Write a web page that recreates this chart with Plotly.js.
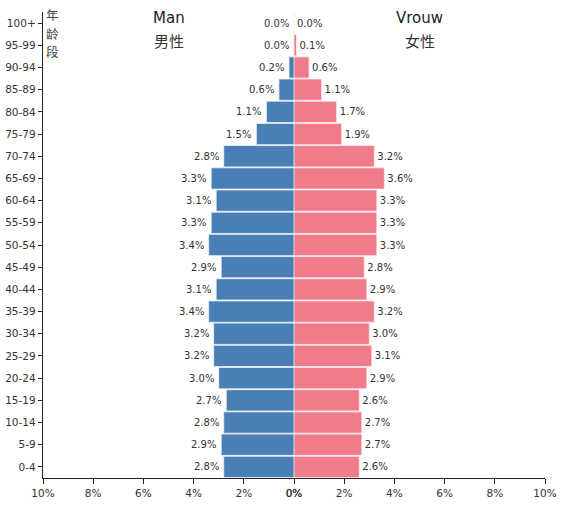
<!DOCTYPE html>
<html>
<head>
<meta charset="utf-8">
<script src="https://cdn.plot.ly/plotly-3.0.1.min.js"></script>
<style>html,body{margin:0;padding:0;background:#fff;}#chart{width:573px;height:507px;}</style>
</head>
<body>
<div id="chart"></div>
<script>
const ageGroups = ["0-4","5-9","10-14","15-19","20-24","25-29","30-34","35-39","40-44","45-49","50-54","55-59","60-64","65-69","70-74","75-79","80-84","85-89","90-94","95-99","100+"];
const maleValues = [2.8,2.9,2.8,2.7,3.0,3.2,3.2,3.4,3.1,2.9,3.4,3.3,3.1,3.3,2.8,1.5,1.1,0.6,0.2,0.0,0.0];
const femaleValues = [2.6,2.7,2.7,2.6,2.9,3.1,3.0,3.2,2.9,2.8,3.3,3.3,3.3,3.6,3.2,1.9,1.7,1.1,0.6,0.1,0.0];
const xTickVals = [0,2,4,6,8,10];
const xTickText = ["0%","2%","4%","6%","8%","10%"];
const maleTitle = ["Man", "男性"];
const femaleTitle = ["Vrouw", "女性"];
const yTitle = "年龄段";

const font = "DejaVu Sans, sans-serif";
const cjk = "Noto Sans CJK SC, sans-serif";
const fmt = v => v.toFixed(1) + "%";

const male = {
  type: "bar", orientation: "h",
  y: ageGroups, x: maleValues,
  xaxis: "x", yaxis: "y",
  marker: {color: "#4A7FB5", line: {color: "#eaf2fa", width: 0.8}},
  hoverinfo: "none"
};
const female = {
  type: "bar", orientation: "h",
  y: ageGroups, x: femaleValues,
  xaxis: "x2", yaxis: "y",
  marker: {color: "#F07B8B", line: {color: "#fbeef0", width: 0.8}},
  text: femaleValues.map(fmt), textposition: "outside", cliponaxis: false,
  textfont: {family: font, size: 10, color: "#333"},
  hoverinfo: "none"
};

const xCommon = {
  tickvals: xTickVals, ticktext: xTickText,
  ticks: "outside", ticklen: 5, tickcolor: "#222",
  showline: true, linecolor: "#222", linewidth: 1.2,
  showgrid: false, zeroline: false,
  tickfont: {family: font, size: 10.5, color: "#333"},
  anchor: "y", fixedrange: true
};

const annotations = [];
maleValues.forEach((v, i) => {
  annotations.push({text: fmt(v), xref: "x", yref: "y", x: v, y: ageGroups[i],
    xanchor: "right", yanchor: "middle", xshift: -3, showarrow: false,
    font: {family: font, size: 10, color: "#333"}});
});
function titlePair(lines, px) {
  annotations.push({text: lines[0], xref: "paper", yref: "paper", x: px, y: 0.987,
    xanchor: "center", yanchor: "middle", showarrow: false,
    font: {family: font, size: 15, color: "#222"}});
  annotations.push({text: lines[1], xref: "paper", yref: "paper", x: px, y: 0.938,
    xanchor: "center", yanchor: "middle", showarrow: false,
    font: {family: cjk, size: 15, color: "#333"}});
}
titlePair(maleTitle, 0.25);
titlePair(femaleTitle, 0.75);
const charY = [0.9936, 0.9539, 0.9142];
Array.from(yTitle).forEach((ch, i) => {
  annotations.push({text: ch, xref: "paper", yref: "paper", x: 0.019, y: charY[i],
    xanchor: "center", yanchor: "middle", showarrow: false,
    font: {family: cjk, size: 12.5, color: "#444"}});
});

const layout = {
  width: 573, height: 507,
  margin: {l: 43, r: 28, t: 12, b: 29},
  paper_bgcolor: "#fff", plot_bgcolor: "#fff",
  showlegend: false,
  bargap: 0.04,
  xaxis: Object.assign({}, xCommon, {domain: [0, 0.5], range: [10, 0]}),
  xaxis2: Object.assign({}, xCommon, {domain: [0.5, 1], range: [0, 10]}),
  yaxis: {
    type: "category", categoryorder: "array", categoryarray: ageGroups,
    range: [-0.5, 20.5],
    ticks: "outside", ticklen: 4, tickcolor: "#222",
    showline: true, linecolor: "#222", linewidth: 1.2,
    showgrid: false, zeroline: false,
    tickfont: {family: font, size: 10.5, color: "#333"},
    fixedrange: true
  },
  annotations: annotations
};

Plotly.newPlot("chart", [male, female], layout, {displayModeBar: false, staticPlot: true});
</script>
</body>
</html>
